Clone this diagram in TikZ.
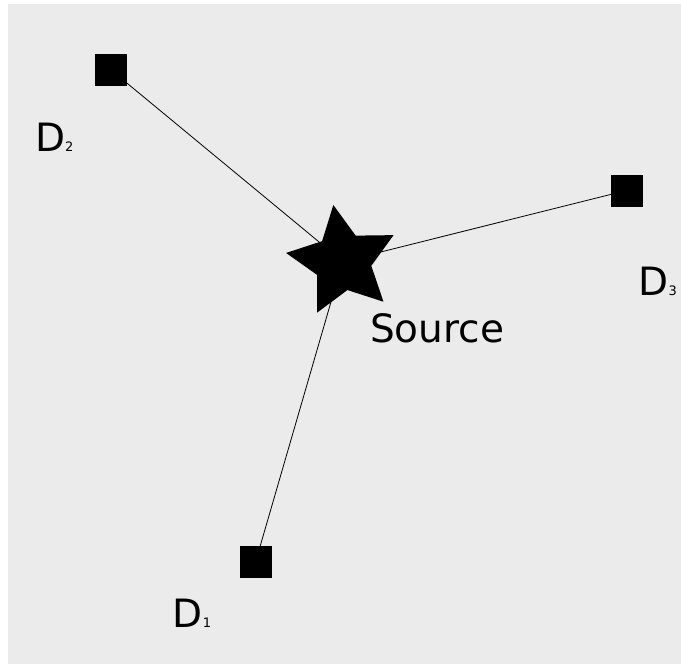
\documentclass[tikz,border=0pt]{standalone}
\usepackage{fontspec}
\setmainfont{DejaVu Sans}
\usetikzlibrary{shapes.geometric}
\pgfdeclarelayer{bg}
\pgfdeclarelayer{lines}
\pgfsetlayers{bg,lines,main}
\definecolor{bggrey}{HTML}{EBEBEB}
\tikzset{
  detector/.style={draw=none, fill=black, minimum size=32pt, inner sep=0pt, outer sep=0pt},
  source/.style={star, star points=5, star point ratio=1.98, minimum size=114.6pt, inner sep=0pt, outer sep=0pt, fill=black, rotate=9.4},
  lbl/.style={anchor=base west, inner sep=0pt, outer sep=0pt, font=\fontsize{39}{39}\selectfont},
  link/.style={line width=0.8pt, black},
}
\newcommand{\sub}[1]{{\fontsize{13}{13}\selectfont #1}}
\begin{document}
\begin{tikzpicture}[x=1pt, y=-1pt]
\useasboundingbox (0,0) rectangle (681,664);
\begin{pgfonlayer}{bg}
\fill[bggrey] (8,4) rectangle (681,664);
\end{pgfonlayer}
\node[detector] (d2) at (110.5,69.5) {};
\node[detector] (d3) at (626.5,190.5) {};
\node[detector] (d1) at (255.5,562.2) {};
\node[source] (src) at (342.7,261.5) {};
\node[lbl] (l2) at (35.2,151) {D\sub{2}};
\node[lbl] (l3) at (638.5,295.7) {D\sub{3}};
\node[lbl] (l1) at (172.9,627.7) {D\sub{1}};
\node[lbl] (ls) at (370.1,342.7) {Source};
\begin{pgfonlayer}{lines}
\draw[link] (d2.center) -- (src.center);
\draw[link] (d3.center) -- (src.center);
\draw[link] (d1.center) -- (src.center);
\end{pgfonlayer}
\end{tikzpicture}
\end{document}
